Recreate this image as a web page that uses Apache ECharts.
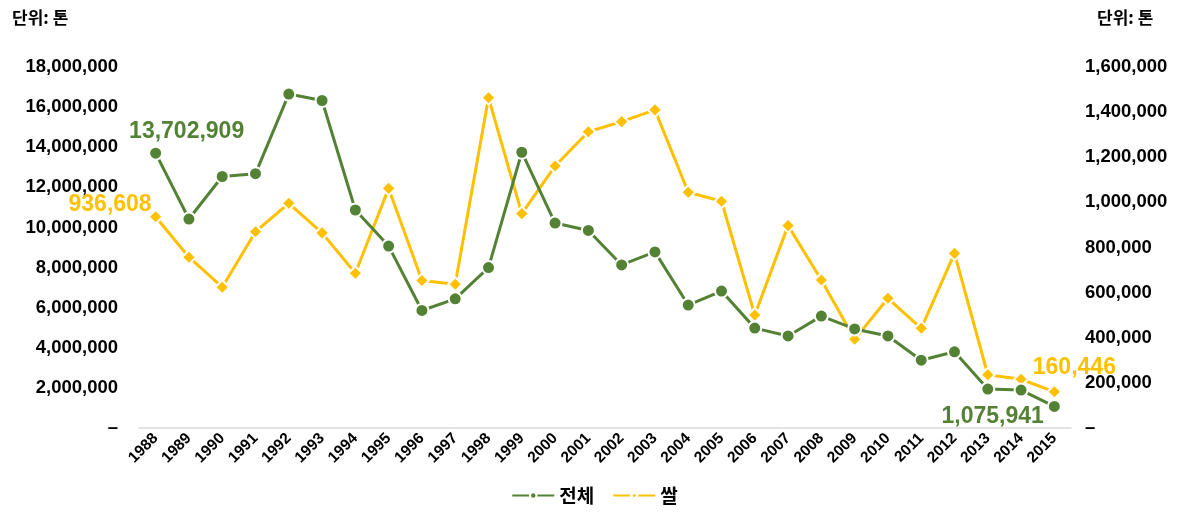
<!DOCTYPE html>
<html>
<head>
<meta charset="utf-8">
<script src="https://cdn.jsdelivr.net/npm/echarts@6/dist/echarts.min.js"></script>
<style>
  html, body { margin: 0; padding: 0; background: #ffffff; }
  #chart { width: 1189px; height: 513px; }
</style>
</head>
<body>
<div id="chart"></div>
<script>
// 연도
var years = ['1988','1989','1990','1991','1992','1993','1994','1995','1996','1997',
             '1998','1999','2000','2001','2002','2003','2004','2005','2006','2007',
             '2008','2009','2010','2011','2012','2013','2014','2015'];

// 전체 (톤, 왼쪽 축)
var totalTons = [13702909, 10420000, 12540000, 12680000, 16650000, 16330000, 10870000, 9070000,
                 5860000, 6440000, 8000000, 13750000, 10220000, 9850000, 8130000, 8780000,
                 6130000, 6830000, 4980000, 4590000, 5580000, 4940000, 4590000, 3380000,
                 3800000, 1940000, 1890000, 1075941];

// 쌀 (톤, 오른쪽 축)
var riceTons = [936608, 757000, 624000, 870000, 996000, 865000, 686000, 1062000,
                654000, 637000, 1464000, 950000, 1161000, 1313000, 1358000, 1410000,
                1045000, 1005000, 501000, 897000, 656000, 393000, 575000, 442000,
                774000, 236000, 216000, 160446];

var leftTicks = { min: 0, max: 18000000, interval: 2000000 };
var rightTicks = { min: 0, max: 1600000, interval: 200000 };

var GREEN = '#548235';
var GOLD = '#FFC000';
var FONT = '"Liberation Sans", Arial, sans-serif';
var KFONT = '"Noto Sans CJK KR", "Liberation Sans", sans-serif';

function commas(v) {
  return String(Math.round(v)).replace(/\B(?=(\d{3})+(?!\d))/g, ',');
}
function tickFmt(v) { return v === 0 ? '–' : commas(v); }

// 첫 해와 마지막 해에만 값 표시
function withEndLabels(values, color, firstLabel, lastLabel) {
  return values.map(function (v, i) {
    var item = { value: v };
    if (i === 0) item.label = Object.assign({ show: true, color: color }, firstLabel);
    if (i === values.length - 1) item.label = Object.assign({ show: true, color: color }, lastLabel);
    return item;
  });
}

var labelFont = {
  fontFamily: FONT, fontWeight: 'bold', fontSize: 23,
  formatter: function (p) { return commas(p.value); }
};

var chart = echarts.init(document.getElementById('chart'), null, { renderer: 'canvas' });
chart.setOption({
  animation: false,
  backgroundColor: '#ffffff',
  graphic: [
    { type: 'text', left: 12, top: 9, style: { text: '단위: 톤', font: 'bold 17px ' + KFONT, fill: '#000' } },
    { type: 'text', left: 1097, top: 9, style: { text: '단위: 톤', font: 'bold 17px ' + KFONT, fill: '#000' } }
  ],
  grid: { left: 139, right: 118, top: 67, bottom: 85, containLabel: false },
  legend: {
    bottom: 3,
    left: 'center',
    itemWidth: 42,
    itemHeight: 8,
    itemGap: 18,
    textStyle: { fontFamily: KFONT, fontWeight: 'bold', fontSize: 19, color: '#000' },
    data: ['전체', '쌀']
  },
  xAxis: {
    type: 'category',
    data: years,
    boundaryGap: true,
    axisLine: { lineStyle: { color: '#d9d9d9', width: 1.5 } },
    axisTick: { show: false },
    axisLabel: { rotate: 45, interval: 0, margin: 8, color: '#000', fontFamily: FONT, fontWeight: 'bold', fontSize: 15.5 }
  },
  yAxis: [
    {
      type: 'value', min: leftTicks.min, max: leftTicks.max, interval: leftTicks.interval,
      axisLine: { show: false }, axisTick: { show: false }, splitLine: { show: false },
      axisLabel: { formatter: tickFmt, margin: 21, color: '#000', fontFamily: FONT, fontWeight: 'bold', fontSize: 18.5 }
    },
    {
      type: 'value', min: rightTicks.min, max: rightTicks.max, interval: rightTicks.interval,
      axisLine: { show: false }, axisTick: { show: false }, splitLine: { show: false },
      axisLabel: { formatter: tickFmt, margin: 14, color: '#000', fontFamily: FONT, fontWeight: 'bold', fontSize: 18.5 }
    }
  ],
  series: [
    {
      name: '전체',
      type: 'line',
      yAxisIndex: 0,
      data: withEndLabels(totalTons, GREEN,
        Object.assign({ position: 'top', offset: [31, 2] }, labelFont),
        Object.assign({ position: 'left', offset: [2, 10] }, labelFont)),
      symbol: 'circle',
      symbolSize: 13,
      lineStyle: { color: GREEN, width: 3 },
      itemStyle: { color: GREEN, borderColor: '#ffffff', borderWidth: 2 },
      z: 3
    },
    {
      name: '쌀',
      type: 'line',
      yAxisIndex: 1,
      data: withEndLabels(riceTons, GOLD,
        Object.assign({ position: 'left', offset: [9, -12] }, labelFont),
        Object.assign({ position: 'top', offset: [20, 0] }, labelFont)),
      symbol: 'diamond',
      symbolSize: 14,
      lineStyle: { color: GOLD, width: 3 },
      itemStyle: { color: GOLD, borderColor: '#ffffff', borderWidth: 2 },
      z: 2
    }
  ]
});
</script>
</body>
</html>
